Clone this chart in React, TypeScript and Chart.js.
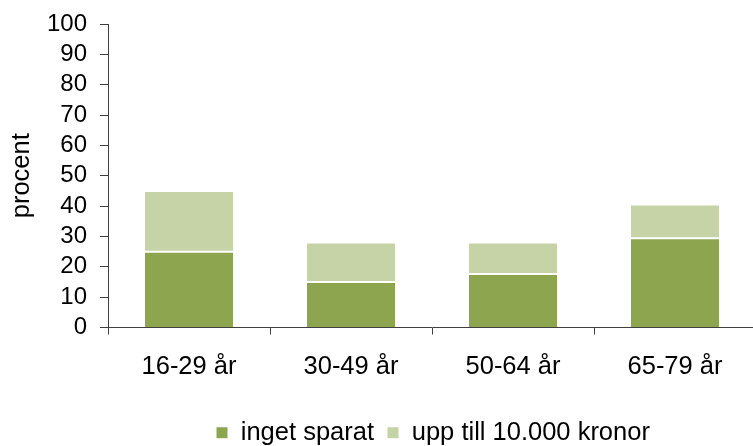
import React, { useEffect, useRef } from "react";
import { Chart, registerables } from "chart.js";

Chart.register(...registerables);

const categories = ["16-29 år", "30-49 år", "50-64 år", "65-79 år"];
const seriesNames = ["inget sparat", "upp till 10.000 kronor"];
const ingetSparat = [25, 15, 17.6, 29.4];
const uppTill10000 = [20, 13, 10.4, 11.1];
const yMin = 0;
const yMax = 100;
const yStep = 10;
const yTitle = "procent";

const DARK = "#8DA54E";
const LIGHT = "#C5D3A7";
const AXIS = "#404040";
const FONT = '"Liberation Sans", Arial, sans-serif';

const legendPlace = {
  id: "legendPlace",
  afterLayout(chart: any) {
    const l: any = chart.legend;
    if (!l || !l.lineWidths) return;
    const pad = l.options.labels.padding;
    const start = (l.left + pad + l.right - l.lineWidths[0]) / 2;
    const dx = 216 - start;
    l.left += dx;
    l.right += dx;
    const h = l.bottom - l.top;
    l.top = 407;
    l.bottom = 407 + h;
  },
};

export default function App() {
  const ref = useRef<HTMLCanvasElement | null>(null);
  useEffect(() => {
    if (!ref.current) return;
    const chart = new Chart(ref.current, {
      type: "bar",
      data: {
        labels: categories,
        datasets: [
          {
            label: seriesNames[0],
            data: ingetSparat,
            backgroundColor: DARK,
            borderColor: "#ffffff",
            borderWidth: 1,
            barPercentage: 0.556,
            categoryPercentage: 1,
          },
          {
            label: seriesNames[1],
            data: uppTill10000,
            backgroundColor: LIGHT,
            borderColor: "#ffffff",
            borderWidth: 1,
            borderSkipped: false,
            barPercentage: 0.556,
            categoryPercentage: 1,
          },
        ],
      },
      options: {
        responsive: false,
        animation: false,
        devicePixelRatio: 1,
        layout: { padding: { left: 0, right: 14, top: 24, bottom: 0 } },
        plugins: {
          legend: {
            position: "bottom",
            labels: {
              boxWidth: 12,
              boxHeight: 12,
              padding: 13,
              color: "#000",
              font: { family: FONT, size: 25.5 },
            },
          },
          tooltip: { enabled: false },
        },
        scales: {
          x: {
            stacked: true,
            grid: {
              offset: true,
              drawOnChartArea: false,
              drawTicks: true,
              tickLength: 7,
              color: AXIS,
            },
            border: { display: true, color: AXIS, width: 1 },
            ticks: {
              color: "#000",
              padding: 17,
              maxRotation: 0,
              font: { family: FONT, size: 25.5 },
            },
            afterFit: (s: any) => {
              s.height = 70;
            },
          },
          y: {
            stacked: true,
            min: yMin,
            max: yMax,
            ticks: {
              stepSize: yStep,
              autoSkip: false,
              color: "#000",
              padding: 13,
              font: { family: FONT, size: 24, lineHeight: 0.8 },
            },
            grid: {
              drawOnChartArea: false,
              drawTicks: true,
              tickLength: 8,
              color: AXIS,
            },
            border: { display: true, color: AXIS, width: 1 },
            title: {
              display: true,
              text: yTitle,
              color: "#000",
              padding: { top: 7, bottom: 0 },
              font: { family: FONT, size: 25.5 },
            },
            afterFit: (s: any) => {
              s.width = 108;
            },
          },
        },
      },
      plugins: [legendPlace],
    });
    return () => chart.destroy();
  }, []);

  return (
    <div
      style={{
        position: "fixed",
        left: 0,
        top: 0,
        width: 753,
        height: 446,
        overflow: "hidden",
        background: "#fff",
      }}
    >
      <canvas ref={ref} width={770} height={446} style={{ width: 770, height: 446, display: "block" }} />
    </div>
  );
}
